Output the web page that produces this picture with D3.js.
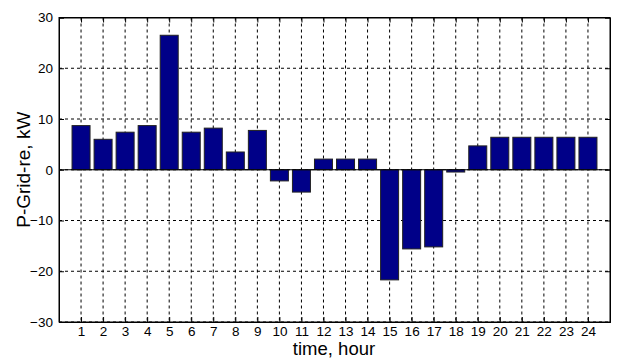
<!DOCTYPE html>
<html><head><meta charset="utf-8">
<script src="https://cdn.jsdelivr.net/npm/d3@7"></script>
<style>body{margin:0;background:#fff}svg{display:block}text{font-family:Arial,"Liberation Sans",sans-serif}</style>
</head><body>
<svg id="c" width="617" height="358"></svg>
<script>
const hours = [1,2,3,4,5,6,7,8,9,10,11,12,13,14,15,16,17,18,19,20,21,22,23,24];
const pGrid = [8.7,6.0,7.4,8.7,26.5,7.4,8.2,3.5,7.75,-2.2,-4.4,2.1,2.1,2.1,-21.7,-15.6,-15.2,-0.45,4.7,6.4,6.4,6.4,6.4,6.4];
const yTicks = [-30,-20,-10,0,10,20,30];
const xLabel = "time, hour";
const yLabel = "P-Grid-re, kW";

const svg = d3.select("#c");
const m = {l:59, r:610, t:17.5, b:322};
const x = d3.scaleLinear().domain([0,25]).range([m.l,m.r]);
const y = d3.scaleLinear().domain([-30,30]).range([m.b,m.t]);
const g = svg.append("g");

// grid
g.selectAll(".gx").data(hours).enter().append("line")
 .attr("x1",d=>x(d)).attr("x2",d=>x(d)).attr("y1",m.t).attr("y2",m.b)
 .attr("stroke","#000").attr("stroke-width",1).attr("stroke-dasharray","3,3");
g.selectAll(".gy").data(yTicks).enter().append("line")
 .attr("x1",m.l).attr("x2",m.r).attr("y1",d=>y(d)).attr("y2",d=>y(d))
 .attr("stroke","#000").attr("stroke-width",1).attr("stroke-dasharray","3,3");

// bars
const bw = 18/22.04;
g.selectAll(".bar").data(hours).enter().append("rect")
 .attr("x",d=>x(d-bw/2)).attr("width",x(bw)-x(0))
 .attr("y",(d,i)=>y(Math.max(0,pGrid[i]))).attr("height",(d,i)=>Math.abs(y(pGrid[i])-y(0)))
 .attr("fill","#000088").attr("stroke","#222").attr("stroke-width",1);

// zero line
g.append("line").attr("x1",m.l).attr("x2",m.r).attr("y1",y(0)).attr("y2",y(0)).attr("stroke","#000");

// axes
svg.append("g").attr("transform",`translate(0,${m.b})`)
 .call(d3.axisBottom(x).tickValues(hours).tickSize(-5).tickPadding(4).tickFormat(d3.format("d")));
svg.append("g").attr("transform",`translate(${m.l},0)`)
 .call(d3.axisLeft(y).tickValues(yTicks).tickSize(-5).tickPadding(6).tickFormat(d3.format("d")));
svg.append("g").attr("transform",`translate(0,${m.t})`)
 .call(d3.axisTop(x).tickValues(hours).tickSize(-5).tickFormat(""));
svg.append("g").attr("transform",`translate(${m.r},0)`)
 .call(d3.axisRight(y).tickValues(yTicks).tickSize(-5).tickFormat(""));
svg.selectAll(".domain").attr("stroke","#000");
svg.selectAll(".tick line").attr("stroke","#000");
svg.selectAll(".tick text").attr("font-size",13.5).attr("fill","#000").attr("font-family","Arial");
svg.append("rect").attr("x",m.l).attr("y",m.t).attr("width",m.r-m.l).attr("height",m.b-m.t)
 .attr("fill","none").attr("stroke","#000");

svg.append("text").attr("x",334).attr("y",355).attr("text-anchor","middle")
 .attr("font-size",18.5).text(xLabel);
svg.append("text").attr("transform",`translate(30,${(m.t+m.b)/2}) rotate(-90)`).attr("text-anchor","middle")
 .attr("font-size",19).text(yLabel);
</script>
</body></html>
